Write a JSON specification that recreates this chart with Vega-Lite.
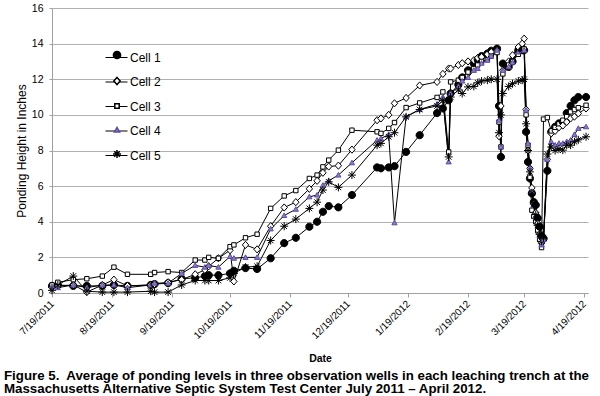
{
  "$schema": "https://vega.github.io/schema/vega-lite/v6.json",
  "width": 536,
  "height": 285,
  "autosize": {"type": "none"},
  "padding": {"left": 52, "top": 8, "right": 12, "bottom": 103},
  "background": "white",
  "title": {
    "text": ["Figure 5.\u00a0 Average of ponding levels in three observation wells in each leaching trench at the", "Massachusetts Alternative Septic System Test Center July 2011 \u2013 April 2012."],
    "orient": "bottom", "anchor": "start", "frame": "group", "dx": -48, "offset": 5,
    "fontSize": 13.3, "fontWeight": "bold", "font": "Liberation Sans", "color": "#000", "lineHeight": 13.5
  },
  "data": {
    "values": [
      {"date":"2011/07/19","Cell 1":0.4,"Cell 2":0.3,"Cell 3":0.45,"Cell 4":0.35,"Cell 5":0.15},
      {"date":"2011/07/22","Cell 1":0.45,"Cell 2":0.4,"Cell 3":0.6,"Cell 4":0.3,"Cell 5":0.45},
      {"date":"2011/07/30","Cell 1":0.4,"Cell 2":0.45,"Cell 3":0.75,"Cell 4":0.45,"Cell 5":0.95},
      {"date":"2011/08/06","Cell 1":0.4,"Cell 2":0.05,"Cell 3":0.8,"Cell 4":0.3,"Cell 5":0.1},
      {"date":"2011/08/14","Cell 1":0.4,"Cell 2":0.45,"Cell 3":0.95,"Cell 4":0.45,"Cell 5":0.05},
      {"date":"2011/08/20","Cell 1":0.45,"Cell 2":0.75,"Cell 3":1.45,"Cell 4":0.45,"Cell 5":0.05},
      {"date":"2011/08/27","Cell 1":0.4,"Cell 2":0.4,"Cell 3":1.05,"Cell 4":0.3,"Cell 5":0.05},
      {"date":"2011/09/08","Cell 1":0.45,"Cell 2":0.45,"Cell 3":1.05,"Cell 4":0.45,"Cell 5":0.1},
      {"date":"2011/09/10","Cell 1":0.5,"Cell 2":0.5,"Cell 3":1.15,"Cell 4":0.55,"Cell 5":0.05},
      {"date":"2011/09/17","Cell 1":0.55,"Cell 2":0.6,"Cell 3":1.2,"Cell 4":0.55,"Cell 5":0.05},
      {"date":"2011/09/24","Cell 1":0.8,"Cell 2":0.75,"Cell 3":1.15,"Cell 4":1.1,"Cell 5":0.45},
      {"date":"2011/10/01","Cell 1":0.85,"Cell 2":1.05,"Cell 3":1.85,"Cell 4":1.55,"Cell 5":0.7},
      {"date":"2011/10/06","Cell 1":0.95,"Cell 2":1.3,"Cell 3":1.85,"Cell 4":1.45,"Cell 5":0.7},
      {"date":"2011/10/08","Cell 1":1.0,"Cell 2":1.5,"Cell 3":2.0,"Cell 4":1.55,"Cell 5":0.7},
      {"date":"2011/10/13","Cell 1":1.0,"Cell 2":1.95,"Cell 3":1.95,"Cell 4":1.45,"Cell 5":0.7},
      {"date":"2011/10/19","Cell 1":1.1,"Cell 2":2.4,"Cell 3":2.6,"Cell 4":2.05,"Cell 5":0.85},
      {"date":"2011/10/21","Cell 1":1.25,"Cell 2":0.65,"Cell 3":2.7,"Cell 4":1.95,"Cell 5":1.1},
      {"date":"2011/10/27","Cell 1":1.4,"Cell 2":2.7,"Cell 3":3.1,"Cell 4":2.0,"Cell 5":1.45},
      {"date":"2011/11/02","Cell 1":1.35,"Cell 2":2.45,"Cell 3":3.3,"Cell 4":2.0,"Cell 5":1.5},
      {"date":"2011/11/09","Cell 1":1.95,"Cell 2":3.75,"Cell 3":4.75,"Cell 4":3.6,"Cell 5":2.95},
      {"date":"2011/11/16","Cell 1":2.8,"Cell 2":4.8,"Cell 3":5.45,"Cell 4":4.35,"Cell 5":3.75},
      {"date":"2011/11/22","Cell 1":3.1,"Cell 2":5.1,"Cell 3":5.75,"Cell 4":4.7,"Cell 5":4.15},
      {"date":"2011/11/29","Cell 1":3.72,"Cell 2":5.85,"Cell 3":6.43,"Cell 4":5.4,"Cell 5":4.75},
      {"date":"2011/12/03","Cell 1":4.0,"Cell 2":6.3,"Cell 3":6.62,"Cell 4":5.5,"Cell 5":5.1},
      {"date":"2011/12/06","Cell 1":4.56,"Cell 2":6.75,"Cell 3":7.08,"Cell 4":6.05,"Cell 5":5.78},
      {"date":"2011/12/09","Cell 1":4.88,"Cell 2":7.1,"Cell 3":7.46,"Cell 4":6.3,"Cell 5":6.24},
      {"date":"2011/12/14","Cell 1":4.81,"Cell 2":7.15,"Cell 3":8.02,"Cell 4":6.62,"Cell 5":5.93},
      {"date":"2011/12/21","Cell 1":5.5,"Cell 2":8.05,"Cell 3":9.14,"Cell 4":7.31,"Cell 5":6.62},
      {"date":"2012/01/03","Cell 1":7.05,"Cell 2":9.7,"Cell 3":9.05,"Cell 4":8.58,"Cell 5":8.3},
      {"date":"2012/01/05","Cell 1":7.0,"Cell 2":9.8,"Cell 3":8.96,"Cell 4":8.67,"Cell 5":8.4},
      {"date":"2012/01/09","Cell 1":7.05,"Cell 2":10.0,"Cell 3":9.24,"Cell 4":8.9,"Cell 5":8.77},
      {"date":"2012/01/12","Cell 1":7.12,"Cell 2":10.65,"Cell 3":9.57,"Cell 4":3.94,"Cell 5":9.0},
      {"date":"2012/01/18","Cell 1":7.92,"Cell 2":10.95,"Cell 3":10.41,"Cell 4":9.9,"Cell 5":9.89},
      {"date":"2012/01/25","Cell 1":8.86,"Cell 2":11.65,"Cell 3":10.67,"Cell 4":10.3,"Cell 5":10.3},
      {"date":"2012/02/03","Cell 1":10.1,"Cell 2":11.85,"Cell 3":10.98,"Cell 4":10.6,"Cell 5":10.5},
      {"date":"2012/02/06","Cell 1":10.36,"Cell 2":12.3,"Cell 3":11.29,"Cell 4":11.0,"Cell 5":10.8},
      {"date":"2012/02/09","Cell 1":10.82,"Cell 2":12.6,"Cell 3":7.92,"Cell 4":7.36,"Cell 5":7.64},
      {"date":"2012/02/10","Cell 1":11.2,"Cell 2":12.6,"Cell 3":11.85,"Cell 4":11.2,"Cell 5":11.0},
      {"date":"2012/02/14","Cell 1":11.7,"Cell 2":12.8,"Cell 3":11.95,"Cell 4":11.6,"Cell 5":11.4},
      {"date":"2012/02/16","Cell 1":12.1,"Cell 2":12.9,"Cell 3":12.1,"Cell 4":11.9,"Cell 5":11.2},
      {"date":"2012/02/19","Cell 1":12.5,"Cell 2":13.0,"Cell 3":12.4,"Cell 4":12.1,"Cell 5":11.57},
      {"date":"2012/02/22","Cell 1":12.88,"Cell 2":13.07,"Cell 3":12.6,"Cell 4":12.5,"Cell 5":11.6},
      {"date":"2012/02/24","Cell 1":13.1,"Cell 2":13.2,"Cell 3":12.8,"Cell 4":12.6,"Cell 5":11.8},
      {"date":"2012/02/26","Cell 1":13.3,"Cell 2":13.25,"Cell 3":13.0,"Cell 4":12.9,"Cell 5":11.9},
      {"date":"2012/02/29","Cell 1":13.44,"Cell 2":13.4,"Cell 3":13.1,"Cell 4":13.07,"Cell 5":11.95},
      {"date":"2012/03/02","Cell 1":13.6,"Cell 2":13.53,"Cell 3":13.3,"Cell 4":13.3,"Cell 5":12.0},
      {"date":"2012/03/05","Cell 1":13.72,"Cell 2":13.6,"Cell 3":13.5,"Cell 4":13.63,"Cell 5":12.0},
      {"date":"2012/03/06","Cell 1":10.5,"Cell 2":8.8,"Cell 3":9.6,"Cell 4":9.7,"Cell 5":9.0},
      {"date":"2012/03/07","Cell 1":7.64,"Cell 2":10.5,"Cell 3":8.2,"Cell 4":8.2,"Cell 5":10.0},
      {"date":"2012/03/08","Cell 1":12.88,"Cell 2":12.5,"Cell 3":12.3,"Cell 4":12.5,"Cell 5":11.2},
      {"date":"2012/03/11","Cell 1":12.69,"Cell 2":13.0,"Cell 3":12.8,"Cell 4":12.7,"Cell 5":11.6},
      {"date":"2012/03/13","Cell 1":13.0,"Cell 2":13.35,"Cell 3":13.0,"Cell 4":12.95,"Cell 5":11.75},
      {"date":"2012/03/16","Cell 1":13.63,"Cell 2":13.81,"Cell 3":13.4,"Cell 4":13.53,"Cell 5":11.9},
      {"date":"2012/03/18","Cell 1":13.63,"Cell 2":14.0,"Cell 3":13.6,"Cell 4":13.6,"Cell 5":11.95},
      {"date":"2012/03/19","Cell 1":13.63,"Cell 2":14.28,"Cell 3":13.7,"Cell 4":13.63,"Cell 5":12.0},
      {"date":"2012/03/20","Cell 1":9.05,"Cell 2":10.3,"Cell 3":10.0,"Cell 4":10.26,"Cell 5":9.5},
      {"date":"2012/03/21","Cell 1":7.36,"Cell 2":8.0,"Cell 3":8.3,"Cell 4":8.4,"Cell 5":8.0},
      {"date":"2012/03/22","Cell 1":6.43,"Cell 2":7.0,"Cell 3":6.5,"Cell 4":7.0,"Cell 5":6.8},
      {"date":"2012/03/23","Cell 1":5.59,"Cell 2":5.9,"Cell 3":4.65,"Cell 4":5.7,"Cell 5":5.6},
      {"date":"2012/03/24","Cell 1":5.1,"Cell 2":5.0,"Cell 3":4.3,"Cell 4":4.9,"Cell 5":5.0},
      {"date":"2012/03/25","Cell 1":4.94,"Cell 2":4.5,"Cell 3":4.0,"Cell 4":4.3,"Cell 5":4.4},
      {"date":"2012/03/26","Cell 1":4.2,"Cell 2":3.9,"Cell 3":3.5,"Cell 4":3.8,"Cell 5":3.8},
      {"date":"2012/03/27","Cell 1":3.72,"Cell 2":3.3,"Cell 3":3.0,"Cell 4":3.2,"Cell 5":3.3},
      {"date":"2012/03/28","Cell 1":3.2,"Cell 2":2.8,"Cell 3":2.55,"Cell 4":2.7,"Cell 5":2.9},
      {"date":"2012/03/29","Cell 1":3.05,"Cell 2":3.0,"Cell 3":9.76,"Cell 4":3.0,"Cell 5":3.1},
      {"date":"2012/03/31","Cell 1":6.86,"Cell 2":7.5,"Cell 3":9.85,"Cell 4":7.5,"Cell 5":7.8},
      {"date":"2012/04/02","Cell 1":9.05,"Cell 2":8.96,"Cell 3":9.1,"Cell 4":8.49,"Cell 5":8.2},
      {"date":"2012/04/04","Cell 1":9.33,"Cell 2":9.1,"Cell 3":9.3,"Cell 4":8.3,"Cell 5":8.0},
      {"date":"2012/04/06","Cell 1":9.52,"Cell 2":9.3,"Cell 3":9.5,"Cell 4":8.4,"Cell 5":8.1},
      {"date":"2012/04/08","Cell 1":9.6,"Cell 2":9.4,"Cell 3":9.7,"Cell 4":8.4,"Cell 5":8.02},
      {"date":"2012/04/10","Cell 1":10.1,"Cell 2":9.6,"Cell 3":9.9,"Cell 4":8.5,"Cell 5":8.3},
      {"date":"2012/04/12","Cell 1":10.5,"Cell 2":9.8,"Cell 3":10.17,"Cell 4":8.58,"Cell 5":8.3},
      {"date":"2012/04/14","Cell 1":10.82,"Cell 2":9.9,"Cell 3":10.3,"Cell 4":8.9,"Cell 5":8.49},
      {"date":"2012/04/16","Cell 1":11.0,"Cell 2":10.08,"Cell 3":10.4,"Cell 4":9.24,"Cell 5":8.6},
      {"date":"2012/04/20","Cell 1":11.0,"Cell 2":10.36,"Cell 3":10.54,"Cell 4":9.33,"Cell 5":8.77}
    ]
  },
  "transform": [{"fold": ["Cell 1", "Cell 2", "Cell 3", "Cell 4", "Cell 5"], "as": ["cell", "v"]}],
  "encoding": {
    "x": {
      "field": "date", "type": "temporal",
      "scale": {"domain": [{"year": 2011, "month": 7, "date": 19}, {"year": 2012, "month": 4, "date": 21}]},
      "axis": {
        "title": "Date", "titleFontWeight": "bold", "titleFontSize": 10.5, "titlePadding": 13,
        "format": "%-m/%-d/%Y", "labelAngle": -45, "labelAlign": "right", "labelBaseline": "middle",
        "labelFontSize": 10, "labelPadding": 5, "tickSize": 4, "grid": false,
        "values": [
          {"year": 2011, "month": 7, "date": 19}, {"year": 2011, "month": 8, "date": 19},
          {"year": 2011, "month": 9, "date": 19}, {"year": 2011, "month": 10, "date": 19},
          {"year": 2011, "month": 11, "date": 19}, {"year": 2011, "month": 12, "date": 19},
          {"year": 2012, "month": 1, "date": 19}, {"year": 2012, "month": 2, "date": 19},
          {"year": 2012, "month": 3, "date": 19}, {"year": 2012, "month": 4, "date": 19}
        ]
      }
    },
    "y": {
      "field": "v", "type": "quantitative",
      "scale": {"domain": [0, 16], "nice": false},
      "axis": {
        "title": "Ponding Height in Inches", "titleFontWeight": "normal", "titleFontSize": 12, "titlePadding": 3,
        "values": [0, 2, 4, 6, 8, 10, 12, 14, 16], "labelFontSize": 10.5, "labelPadding": 6, "tickSize": 3,
        "grid": true
      }
    }
  },
  "layer": [
    {
      "mark": {"type": "line", "strokeWidth": 1},
      "encoding": {
        "color": {
          "field": "cell", "type": "nominal",
          "scale": {"domain": ["Cell 1", "Cell 2", "Cell 3", "Cell 4", "Cell 5"], "range": ["#000000", "#000000", "#000000", "#000000", "#000000"]},
          "legend": {
            "orient": "none", "legendX": 53, "legendY": 38, "title": null,
            "symbolType": "stroke", "symbolSize": 484, "symbolStrokeWidth": 1,
            "labelFontSize": 12, "labelOffset": 2, "rowPadding": 6.5, "labelColor": "#000", "labelFont": "Liberation Sans"
          }
        }
      }
    },
    {
      "mark": {"type": "point", "filled": true, "size": 64, "strokeWidth": 1, "opacity": 1},
      "encoding": {
        "shape": {
          "field": "cell", "type": "nominal",
          "scale": {"range": [
            "M0.9,0A0.9,0.9 0 1,1 -0.9,0A0.9,0.9 0 1,1 0.9,0Z",
            "M0,-0.9L0.8,0L0,0.9L-0.8,0Z",
            "M-0.55,-0.55H0.55V0.55H-0.55Z",
            "M0,-0.65L0.65,0.5H-0.65Z",
            "M-1,0H1M0,-1V1M-0.7,-0.7L0.7,0.7M-0.7,0.7L0.7,-0.7"
          ]},
          "legend": {
            "orient": "none", "legendX": 60, "legendY": 42, "title": null, "symbolSize": 64,
            "labelExpr": "''", "labelOffset": 0, "rowPadding": 12
          }
        },
        "fill": {
          "field": "cell", "type": "nominal",
          "scale": {"range": ["#000000", "#ffffff", "#ffffff", "#8e7cc3", "transparent"]},
          "legend": {
            "orient": "none", "legendX": 60, "legendY": 42, "title": null, "symbolSize": 64,
            "labelExpr": "''", "labelOffset": 0, "rowPadding": 12
          }
        },
        "stroke": {
          "field": "cell", "type": "nominal",
          "scale": {"range": ["#000000", "#000000", "#000000", "#5e4d99", "#000000"]},
          "legend": {
            "orient": "none", "legendX": 60, "legendY": 42, "title": null, "symbolSize": 64,
            "labelExpr": "''", "labelOffset": 0, "rowPadding": 12
          }
        }
      }
    }
  ],
  "config": {
    "font": "Liberation Sans",
    "view": {"stroke": null},
    "axis": {
      "labelFont": "Liberation Sans", "titleFont": "Liberation Sans",
      "labelColor": "#000", "titleColor": "#000",
      "domainColor": "#a0a0a0", "tickColor": "#a0a0a0", "gridColor": "#b0b0b0", "gridWidth": 1
    },
    "legend": {"labelFont": "Liberation Sans"}
  }
}
